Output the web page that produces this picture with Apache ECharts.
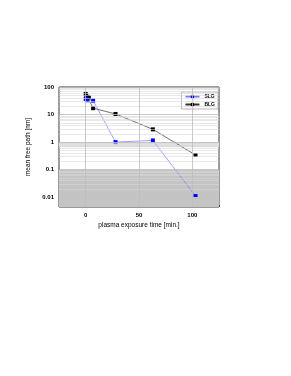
<!DOCTYPE html>
<html><head><meta charset="utf-8">
<script src="https://cdn.jsdelivr.net/npm/echarts@6/dist/echarts.min.js"></script>
<style>html,body{margin:0;padding:0;background:#fff}#c{width:291px;height:376px}</style>
</head><body><div id="c"></div>
<script>
const timeSLG = [0, 1.5, 7, 28, 63, 103];
const mfpSLG  = [37, 33, 32, 1.0, 1.15, 0.011];
const timeBLG = [0, 0.5, 1.5, 3, 7, 28, 63, 103];
const mfpBLG  = [56, 48, 44, 42, 17, 10.5, 2.9, 0.34];
const xMajor = [0, 50, 100];
const yDecades = [0.01, 0.1, 1, 10];
const yMin = 0.0044, yMax = 100;

const minorLines = [];
yDecades.forEach(d => { for (let k = 2; k <= 9; k++) minorLines.push({yAxis: d * k}); });
minorLines.push({yAxis: 0.005},{yAxis: 0.006},{yAxis: 0.007},{yAxis: 0.008},{yAxis: 0.009});
const majorLines = yDecades.map(v => ({yAxis: v})).concat([{yAxis: 100}]);
const vLines = xMajor.map(v => ({xAxis: v}));

const font = {fontFamily: 'Liberation Sans', fontWeight: 'bold', fontSize: 6, color: '#000'};
const chart = echarts.init(document.getElementById('c'));
chart.setOption({
  animation: false,
  grid: {left: 59, top: 87, width: 160, height: 120, show: true, borderColor: '#000', borderWidth: 0.8},
  legend: {
    right: 73, top: 92, orient: 'vertical', itemWidth: 14, itemHeight: 4, itemGap: 3,
    borderColor: '#888', borderWidth: 0.6, padding: [2, 3, 2, 3], backgroundColor: '#fff',
    textStyle: {fontFamily: 'Liberation Sans', fontWeight: 'bold', fontSize: 5, color: '#000'},
    data: ['SLG', 'BLG']
  },
  xAxis: {
    type: 'value', min: -25, max: 125, interval: 25,
    name: 'plasma exposure time [min.]', nameLocation: 'middle', nameGap: 15,
    nameTextStyle: {fontFamily: 'Liberation Sans', fontSize: 6.5, color: '#000'},
    axisLine: {show: false},
    axisTick: {show: true, inside: true, length: 2, lineStyle: {color: '#000', width: 0.6}},
    axisLabel: Object.assign({margin: 5, formatter: v => (v % 50 === 0 ? String(v) : '')}, font),
    splitLine: {show: false}
  },
  yAxis: {
    type: 'log', logBase: 10, min: yMin, max: yMax,
    name: 'mean free path [nm]', nameLocation: 'middle', nameGap: 19,
    nameTextStyle: {fontFamily: 'Liberation Sans', fontSize: 6.5, color: '#000'},
    axisLine: {show: false},
    axisTick: {show: false},
    axisLabel: Object.assign({margin: 5, formatter: v => {
      const l = Math.log10(v); return Math.abs(l - Math.round(l)) < 1e-6 ? String(+v.toPrecision(3)) : '';
    }}, font),
    splitLine: {show: false}
  },
  series: [
    {
      type: 'line', name: 'bg', data: [], silent: true,
      markArea: {silent: true, data: [
        [{yAxis: yMin, itemStyle: {color: '#c4c4c4'}}, {yAxis: 0.1}],
        [{yAxis: 0.65, itemStyle: {color: '#e2e2e2'}}, {yAxis: 1}]
      ]},
      markLine: {silent: true, symbol: 'none', label: {show: false},
        lineStyle: {color: '#d8d8d8', width: 0.6, type: 'solid'}, data: minorLines}
    },
    {
      type: 'line', name: 'grid', data: [], silent: true,
      markLine: {silent: true, symbol: 'none', label: {show: false},
        lineStyle: {color: '#bdbdbd', width: 0.8, type: 'solid'}, data: majorLines.concat(vLines)}
    },
    {
      type: 'line', name: 'BLG', data: timeBLG.map((t, i) => [t, mfpBLG[i]]),
      symbol: 'rect', symbolSize: 4, color: '#000',
      lineStyle: {color: '#333', width: 0.7}, itemStyle: {color: '#000'}
    },
    {
      type: 'line', name: 'SLG', data: timeSLG.map((t, i) => [t, mfpSLG[i]]),
      symbol: 'rect', symbolSize: 4, color: '#0000ff',
      lineStyle: {color: '#7a7aff', width: 0.7}, itemStyle: {color: '#0000ff'}
    }
  ]
});
</script></body></html>
